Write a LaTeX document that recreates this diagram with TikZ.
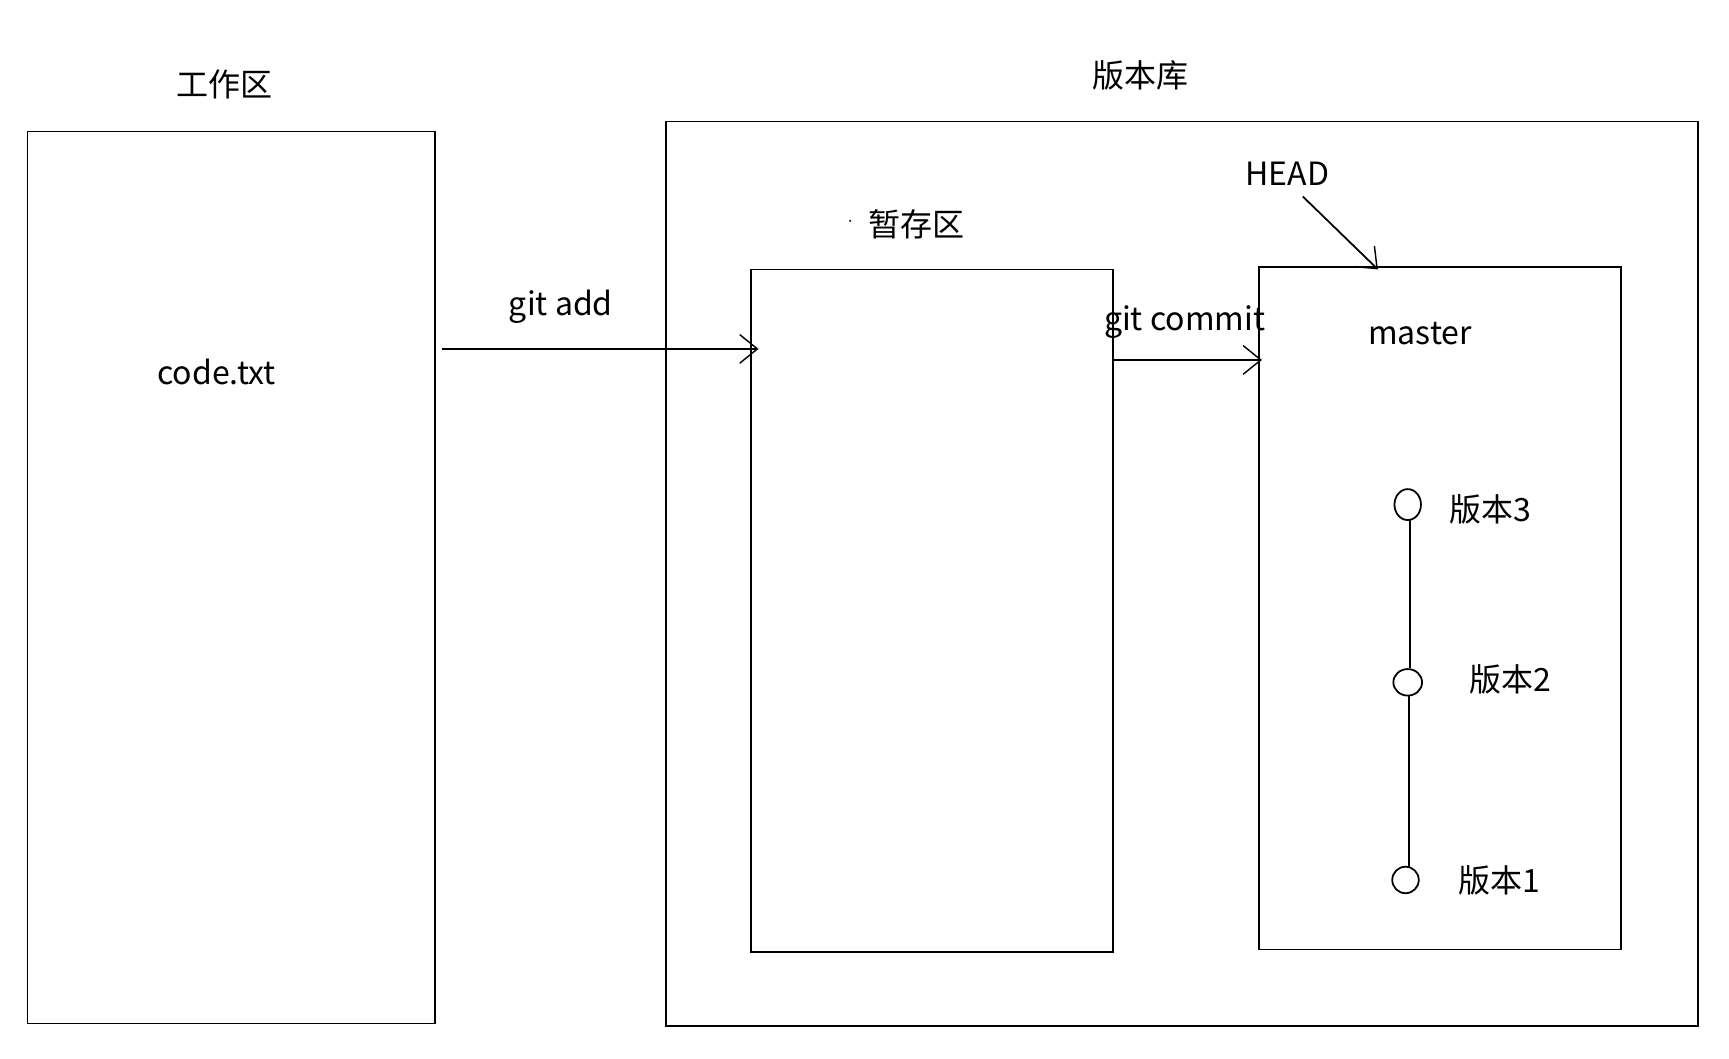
\documentclass[tikz,border=0pt]{standalone}
\usepackage{fontspec}
\setmainfont{Noto Sans CJK SC}
\usetikzlibrary{arrows.meta}
\begin{document}
\begin{tikzpicture}[x=1pt,y=-1pt,
  box/.style={draw,line width=1.6pt,inner sep=0pt},
  lbl/.style={font=\fontsize{29}{32}\selectfont,inner sep=0pt},
  arr/.style={line width=1.6pt,-{Straight Barb[length=16pt,width=26pt,line width=1.3pt]}},
  ver/.style={draw,line width=1.6pt,ellipse,inner sep=0pt}]
\useasboundingbox (0,0) rectangle (1566,959);
\fill[white] (0,0) rectangle (1566,959);
\draw[box] (25,119) rectangle (394,927);
\node[lbl] (wl) at (203,76) {工作区};
\node[lbl] (code) at (196,337) {code.txt};
\draw[box] (603,110) rectangle (1538,929);
\node[lbl] (rl) at (1033,68) {版本库};
\draw[box] (680,244) rectangle (1008,862);
\node[lbl] (sl) at (830,203) {暂存区};
\fill (770,200) circle (1pt);
\draw[box] (1140,242) rectangle (1468,860);
\node[lbl] (ml) at (1286,302) {master};
\node[lbl] (head) at (1166,157) {HEAD};
\coordinate (h1) at (1180,178); \coordinate (h2) at (1248,244);
\draw[arr] (h1) -- (h2);
\coordinate (a1) at (400,316); \coordinate (a2) at (687,316);
\draw[arr] (a1) -- (a2);
\node[lbl] at (508,278) {git add};
\coordinate (c1) at (1008,326); \coordinate (c2) at (1143,326);
\draw[arr] (c1) -- (c2);
\node[lbl] at (1073,292) {git commit};
\draw[line width=1.6pt] (1277,471) -- (1277,605);
\draw[line width=1.6pt] (1276,630) -- (1276,785);
\draw[line width=1.6pt] (1275,457) ellipse (12 and 14);
\draw[line width=1.6pt] (1275,618) ellipse (13 and 12);
\draw[line width=1.6pt] (1273,797) ellipse (12 and 12);
\node[lbl] at (1350,461) {版本3};
\node[lbl] at (1368,615) {版本2};
\node[lbl] at (1358,797) {版本1};
\end{tikzpicture}
\end{document}
